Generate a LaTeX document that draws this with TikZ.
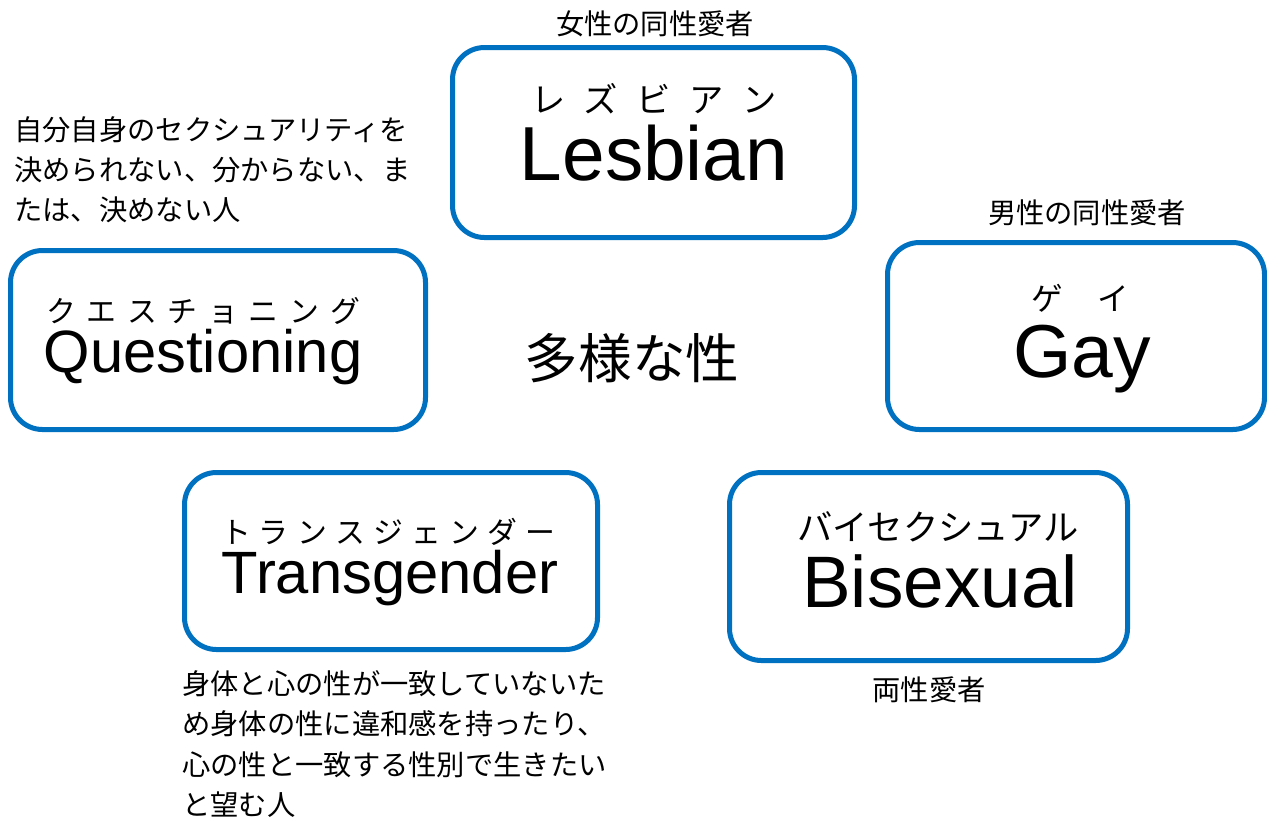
\documentclass[tikz,border=0pt]{standalone}
\usepackage{fontspec}
\setmainfont{Liberation Sans}
\newfontfamily\jp{Noto Sans CJK JP}
\usetikzlibrary{positioning}
\definecolor{boxblue}{RGB}{0,112,192}
\newlength\pxu
\setlength\pxu{0.02cm}
% spread kana over a fixed width
\newcommand\kana[2]{\makebox[#1\pxu][s]{#2}}

\begin{document}
\begin{tikzpicture}[x=0.02cm,y=-0.02cm,
		catbox/.style={draw=boxblue,fill=white,line width=5\pxu,rounded corners=32\pxu,inner sep=0pt},
		note/.style={font=\jp\fontsize{16.1}{22.8}\selectfont,inner sep=0pt},
		desc/.style={note,align=left,anchor=west},
		ruby/.style={inner sep=0pt},
		word/.style={inner sep=0pt,anchor=base}]
	\useasboundingbox (0,0) rectangle (1267,816);
	\begin{scope}
		\clip (0,0) rectangle (1267,816);
		% the five boxes
		\node[catbox,minimum width=402\pxu,minimum height=190\pxu] (les) at (653.5,142.5) {};
		\node[catbox,minimum width=377\pxu,minimum height=187\pxu] (gay) at (1076,336) {};
		\node[catbox,minimum width=415\pxu,minimum height=179\pxu] (que) at (218,340) {};
		\node[catbox,minimum width=413\pxu,minimum height=177\pxu] (tra) at (391,561) {};
		\node[catbox,minimum width=398\pxu,minimum height=188\pxu] (bis) at (928.5,566.5) {};
	\end{scope}

	% kana + english in each box
	\node[ruby,font=\jp\fontsize{19.5}{22}\selectfont] (lesK) at (654,99) {\kana{246}{レ\hfill ズ\hfill ビ\hfill ア\hfill ン}};
	\node[word,font=\fontsize{43.6}{50}\selectfont] (lesW) at (654,180) {Lesbian};

	\node[ruby,font=\jp\fontsize{18}{22}\selectfont] (gayK) at (1080,298) {\kana{98}{ゲ\hfill イ}};
	\node[word,font=\fontsize{42.7}{50}\selectfont] (gayW) at (1082,377) {Gay};

	\node[ruby,font=\jp\fontsize{17}{20}\selectfont] (queK) at (203,311) {\kana{314}{ク\hfill エ\hfill ス\hfill チ\hfill ョ\hfill ニ\hfill ン\hfill グ}};
	\node[word,font=\fontsize{34}{40}\selectfont] (queW) at (203,372) {Questioning};

	\node[ruby,font=\jp\fontsize{17}{20}\selectfont] (traK) at (388,532) {\kana{334}{ト\hfill ラ\hfill ン\hfill ス\hfill ジ\hfill ェ\hfill ン\hfill ダ\hfill ー}};
	\node[word,font=\fontsize{34}{40}\selectfont] (traW) at (390,593) {Transgender};

	\node[ruby,font=\jp\fontsize{20.1}{24}\selectfont] (bisK) at (938,527) {バイセクシュアル};
	\node[word,font=\fontsize{41.5}{48}\selectfont] (bisW) at (940,607) {Bisexual};

	% centre
	\node[inner sep=0pt,font=\jp\fontsize{30.5}{34}\selectfont] (mid) at (632,358) {多様な性};

	% notes
	\node[note] (lesN) at (655,24) {女性の同性愛者};
	\node[note] (gayN) at (1087,213) {男性の同性愛者};
	\node[note] (bisN) at (929,690) {両性愛者};
	\node[desc] (queN) at (14,170) {自分自身のセクシュアリティを\\決められない、分からない、ま\\たは、決めない人};
	\node[desc] (traN) at (182,744) {身体と心の性が一致していないた\\め身体の性に違和感を持ったり、\\心の性と一致する性別で生きたい\\と望む人};
\end{tikzpicture}
\end{document}
